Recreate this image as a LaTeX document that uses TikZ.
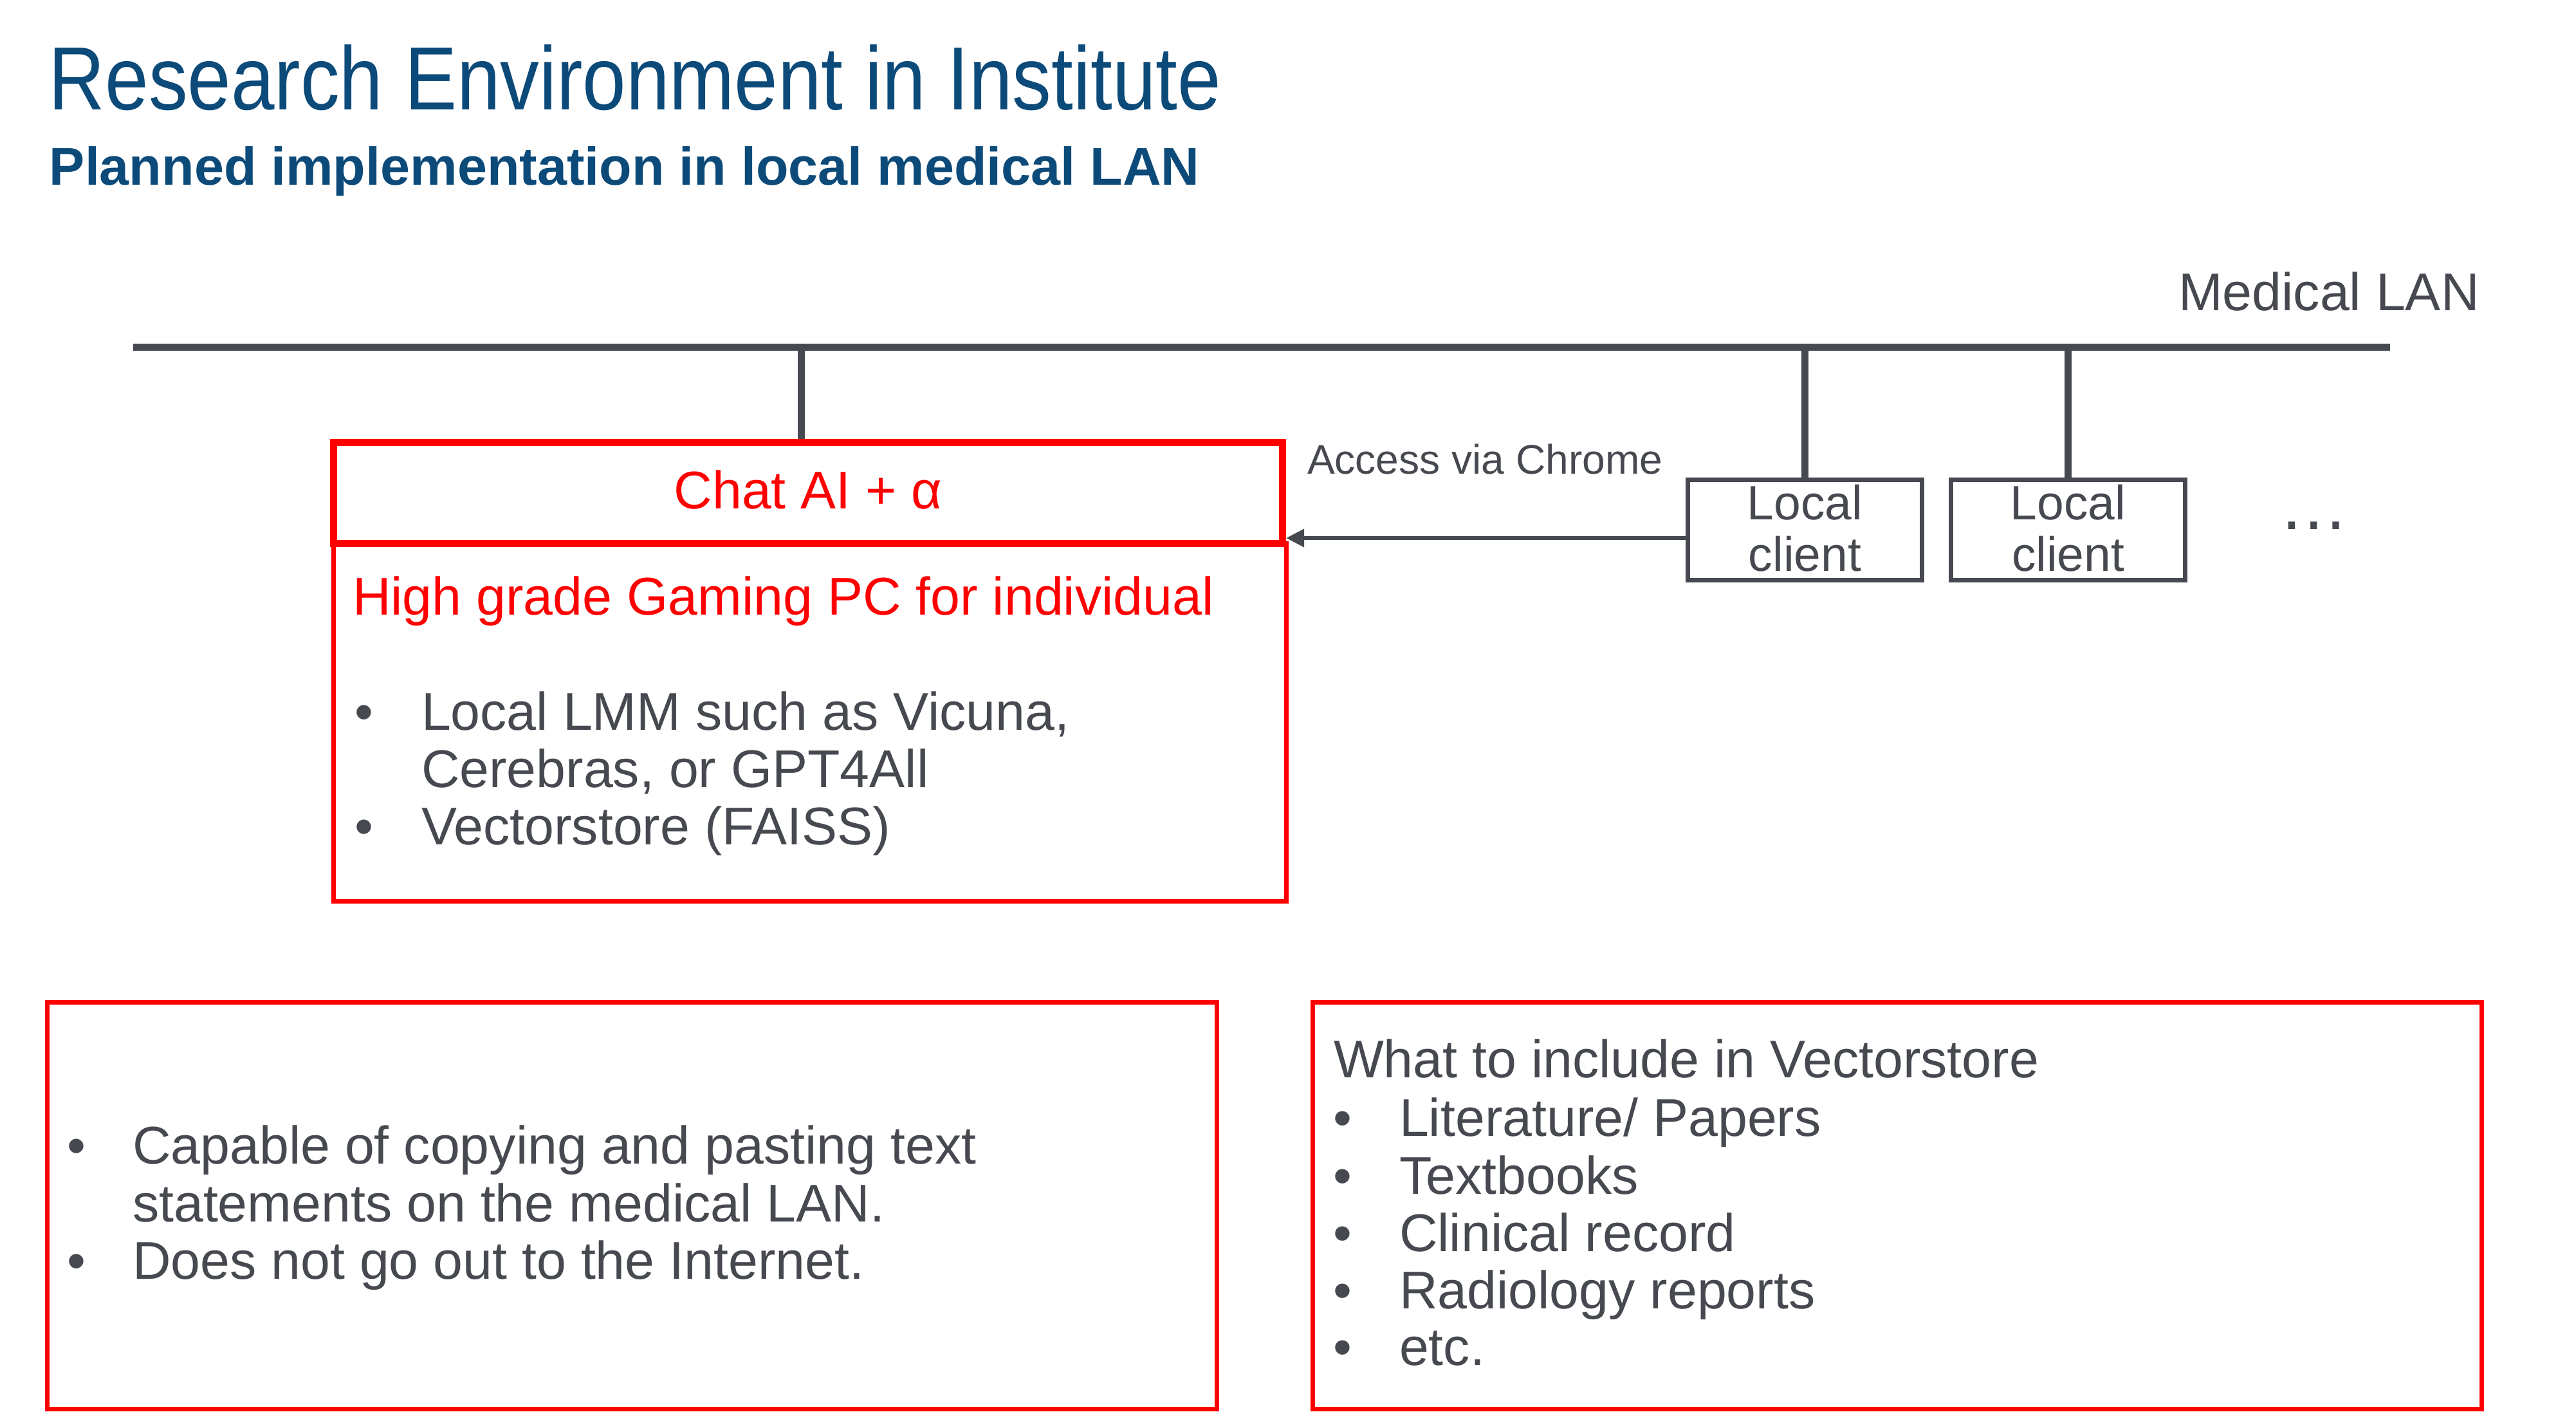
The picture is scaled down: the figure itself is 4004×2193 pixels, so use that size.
\documentclass[tikz,border=0pt]{standalone}
\usepackage{fontspec}
\setmainfont{Liberation Sans}
\newfontfamily\titlefont[FakeStretch=0.87]{Liberation Sans}
\usetikzlibrary{arrows.meta}
\newlength\pxu
\setlength\pxu{0.24pt}
\definecolor{txtgray}{HTML}{46494F}
\definecolor{boxred}{HTML}{FF0000}
\definecolor{ttlblue}{HTML}{0C4A79}
\begin{document}
\begin{tikzpicture}[x=0.24pt,y=-0.24pt,
  txt/.style={inner sep=0pt, outer sep=0pt, anchor=base west, text=txtgray, font=\fontsize{19.8}{24}\selectfont},
  bul/.style={inner sep=0pt, outer sep=0pt, anchor=base, text=txtgray, font=\fontsize{19.8}{24}\selectfont},
  redtxt/.style={txt, text=boxred},
  clienttxt/.style={inner sep=0pt, outer sep=0pt, anchor=base, text=txtgray, font=\fontsize{18}{22}\selectfont},
  redthick/.style={draw=boxred, line width=2.64pt, rectangle, inner sep=0pt},
  redthin/.style={draw=boxred, line width=1.68pt, rectangle, inner sep=0pt},
  graybox/.style={draw=txtgray, line width=1.68pt, rectangle, inner sep=0pt},
  lanline/.style={draw=txtgray, line width=2.64pt, line cap=butt},
  arr/.style={draw=txtgray, line width=1.5pt, -{Triangle[length=6.72pt, width=6.48pt]}}
]
\useasboundingbox (0,0) rectangle (4004,2193);

% titles
\node[anchor=base west, inner sep=0pt, text=ttlblue, font=\titlefont\fontsize{33.5}{40}\selectfont] (title) at (75,170) {Research Environment in Institute};
\node[anchor=base west, inner sep=0pt, text=ttlblue, font=\bfseries\fontsize{19.85}{24}\selectfont] (sub) at (76,287) {Planned implementation in local medical LAN};

% LAN
\coordinate (lanL) at (207,539.5);
\coordinate (lanR) at (3715,539.5);
\draw[lanline] (lanL) -- (lanR);
\node[txt] (lanlbl) at (3386,482) {Medical LAN};

% PC boxes
\node[redthin, minimum width=1481\pxu, minimum height=555.5\pxu] (pc) at (1259,1122.25) {};
\node[redthick, minimum width=1475\pxu, minimum height=157\pxu] (chat) at (1256,766) {};
\node[redtxt, anchor=base] (chatlbl) at (1256,790) {Chat AI + α};

\node[redtxt] (pchead) at (548,955) {High grade Gaming PC for individual};
\node[bul] (pcb1) at (566,1134) {•};
\node[txt] (pcl1) at (655,1134) {Local LMM such as Vicuna,};
\node[txt] (pcl2) at (655,1223) {Cerebras, or GPT4All};
\node[bul] (pcb2) at (566,1312) {•};
\node[txt] (pcl3) at (655,1312) {Vectorstore (FAISS)};

% clients
\node[graybox, minimum width=364\pxu, minimum height=156\pxu] (c1) at (2805.5,823.5) {};
\node[graybox, minimum width=364\pxu, minimum height=156\pxu] (c2) at (3214.5,823.5) {};
\node[clienttxt] (c1a) at (2805.5,807) {Local};
\node[clienttxt] (c1b) at (2805.5,887) {client};
\node[clienttxt] (c2a) at (3214.5,807) {Local};
\node[clienttxt] (c2b) at (3214.5,887) {client};
\node[txt, font=\fontsize{26}{30}\selectfont] (dots) at (3542,822) {…};

% taps to LAN
\coordinate (t1) at (1245,539.5);
\draw[lanline] (t1) -- (t1 |- chat.north);
\draw[lanline] (c1.north) -- (c1.north |- lanL);
\draw[lanline] (c2.north) -- (c2.north |- lanL);

% access arrow
\coordinate (ay) at (0,836);
\draw[arr] (c1.west |- ay) -- (chat.east |- ay);
\node[txt, font=\fontsize{15.4}{18}\selectfont] (acc) at (2032,736) {Access via Chrome};

% bottom boxes
\node[redthin, minimum width=1818\pxu, minimum height=632\pxu] (note) at (982,1873.5) {};
\node[redthin, minimum width=1817\pxu, minimum height=632\pxu] (vs) at (2948.5,1873.5) {};

\node[bul] (nb1) at (119,1808) {•};
\node[txt] (nl1) at (206,1808) {Capable of copying and pasting text};
\node[txt] (nl2) at (206,1898) {statements on the medical LAN.};
\node[bul] (nb2) at (119,1987) {•};
\node[txt] (nl3) at (206,1987) {Does not go out to the Internet.};

\node[txt] (vshead) at (2073,1674.5) {What to include in Vectorstore};
\node[bul] (vb1) at (2087,1765) {•};
\node[txt] (vl1) at (2175,1765) {Literature/ Papers};
\node[bul] (vb2) at (2087,1855) {•};
\node[txt] (vl2) at (2175,1855) {Textbooks};
\node[bul] (vb3) at (2087,1944) {•};
\node[txt] (vl3) at (2175,1944) {Clinical record};
\node[bul] (vb4) at (2087,2033) {•};
\node[txt] (vl4) at (2175,2033) {Radiology reports};
\node[bul] (vb5) at (2087,2121) {•};
\node[txt] (vl5) at (2175,2121) {etc.};
\end{tikzpicture}
\end{document}
